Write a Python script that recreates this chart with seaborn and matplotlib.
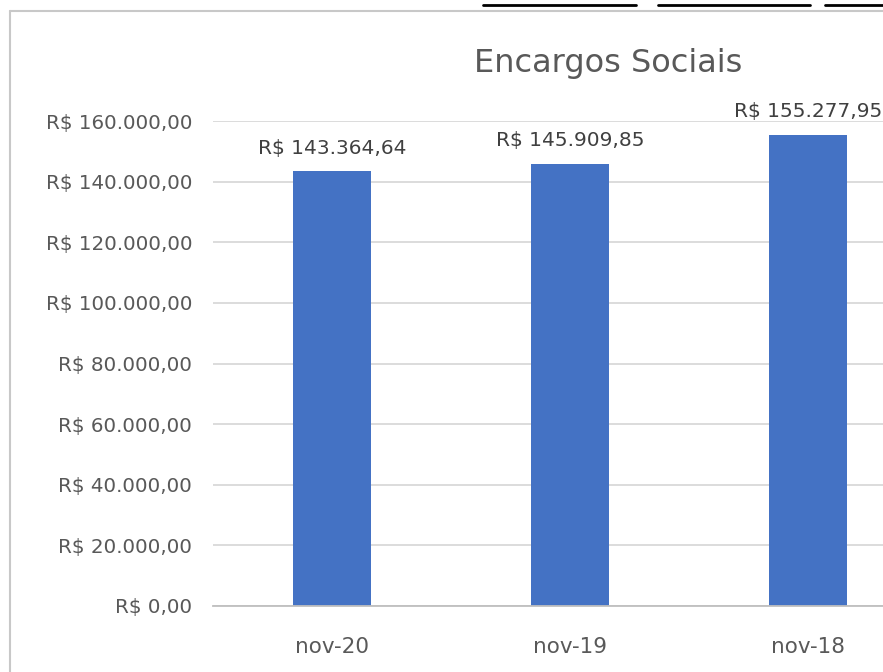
import matplotlib
matplotlib.use("Agg")
import matplotlib.pyplot as plt
from matplotlib.lines import Line2D
from matplotlib.ticker import FuncFormatter, FixedLocator
import seaborn as sns
import pandas as pd

meses = ["nov-20", "nov-19", "nov-18"]
valores = [143364.64, 145909.85, 155277.95]
y_ticks = [0, 20000, 40000, 60000, 80000, 100000, 120000, 140000, 160000]


def brl(v, pos=None):
    s = f"{v:,.2f}".replace(",", "X").replace(".", ",").replace("X", ".")
    return f"R$ {s}"


df = pd.DataFrame({"mes": meses, "valor": valores})

sns.set_style("white")
plt.rcParams['font.family'] = ['DejaVu Sans']

fig = plt.figure(figsize=(8.83, 6.72), dpi=100)
ax = fig.add_axes([213 / 883, 66 / 672, 714 / 883, 485 / 672])

sns.barplot(data=df, x="mes", y="valor", color="#4472C4", width=0.33,
            saturation=1, linewidth=0, ax=ax)

ax.set_xlim(-0.5, 2.5)
ax.set_ylim(0, 160000)
ax.yaxis.set_major_locator(FixedLocator(y_ticks))
ax.yaxis.set_major_formatter(FuncFormatter(brl))
ax.grid(axis="y", color="#d9d9d9", linewidth=1.3)
ax.set_axisbelow(True)
for s in ["top", "right", "left"]:
    ax.spines[s].set_visible(False)
ax.spines["bottom"].set_color("#bfbfbf")
ax.spines["bottom"].set_linewidth(1.3)

ax.tick_params(axis="y", length=0, pad=15, labelsize=14.3, labelcolor="#595959")
ax.tick_params(axis="x", which="major", length=0, pad=22, labelsize=15.5,
               labelcolor="#595959")
ax.set_xticks([-0.5, 0.5, 1.5, 2.5], minor=True)
ax.tick_params(axis="x", which="minor", length=6, color="#bfbfbf", width=1.3)
ax.set_xlabel("")
ax.set_ylabel("")

for i, v in enumerate(valores):
    ax.annotate(brl(v), (i, v), xytext=(0, 10), textcoords="offset points",
                ha="center", va="bottom", fontsize=14.5, color="#404040",
                annotation_clip=False)

fig.text(608 / 883, 1 - 72 / 672, "Encargos Sociais", ha="center",
         va="baseline", fontsize=23, color="#595959")

# chart border and top lines
fig.add_artist(Line2D([10 / 883, 10 / 883], [0, 1 - 11 / 672],
                      transform=fig.transFigure, color="#c8c8c8", lw=1.5))
fig.add_artist(Line2D([10 / 883, 1], [1 - 11 / 672, 1 - 11 / 672],
                      transform=fig.transFigure, color="#c8c8c8", lw=1.5))
for x0, x1 in [(483, 636), (658, 810), (825, 883)]:
    fig.add_artist(Line2D([x0 / 883, x1 / 883], [1 - 5 / 672, 1 - 5 / 672],
                          transform=fig.transFigure, color="black", lw=2))

fig.savefig("out.png", dpi=100)
